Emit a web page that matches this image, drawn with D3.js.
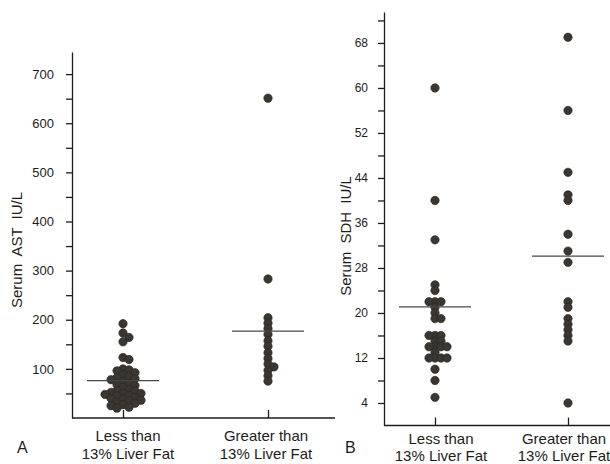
<!DOCTYPE html>
<html lang="en">
<head>
  <meta charset="UTF-8">
  <title>Serum AST and SDH vs liver fat</title>
  <script src="https://d3js.org/d3.v7.min.js"></script>
  <style>
    body {
      margin: 0;
      background: #fff;
      font-family: 'Liberation Sans', Arial, sans-serif;
    }
    svg { display: block; }
    .axis path, .axis line { stroke: #1e1c1a; stroke-width: 1.3px; }
    .axis text { fill: #1e1c1a; font-family: 'Liberation Sans', sans-serif; }
    .dot { fill: #3b3631; stroke: #2a2622; stroke-width: 0.6px; }
    .mean { stroke: #4a4744; stroke-width: 1.2px; }
    .title { fill: #1e1c1a; font-size: 15px; }
    .cat { fill: #1e1c1a; font-size: 15px; }
  </style>
</head>
<body>
<svg width="610" height="464"></svg>
<script>
  // panel A - serum AST (IU/L)
  const astLess = [192, 173, 164, 155, 123, 119,
    100, 98, 96, 92, 88, 85, 82, 80, 78, 74, 70, 68, 66, 62,
    58, 56, 55, 52, 50, 50, 48, 46, 45, 42, 40, 38, 36, 35, 32, 30,
    27, 25, 22, 20];
  const astGreater = [651, 283, 204, 193, 182, 170, 157, 146, 133, 121, 110, 104, 97, 86, 75];
  const astMeans = [76, 177];
  const astTicks = [100, 200, 300, 400, 500, 600, 700];

  // panel B - serum SDH (IU/L)
  const sdhLess = [60, 40, 33, 25, 24, 22, 22, 22, 21, 20, 19, 19,
    16, 16, 16, 15, 15, 14, 14, 14, 14, 13, 12, 12, 12, 12, 10, 8, 5];
  const sdhGreater = [69, 56, 45, 41, 40, 34, 31, 29, 22, 21, 19, 18, 17, 16, 15, 4];
  const sdhMeans = [21.1, 30.1];
  const sdhTicks = [4, 12, 20, 28, 36, 44, 52, 60, 68];

  const groups = ["Less than|13% Liver Fat", "Greater than|13% Liver Fat"];

  const svg = d3.select("svg");

  // simple beeswarm: same-value points go side by side
  function dodge(values, y, step, dist) {
    const placed = [];
    values.slice().sort((a, b) => b - a).forEach(v => {
      const yy = y(v);
      for (let i = 0; i < 20; i++) {
        const k = i === 0 ? 0 : (i % 2 ? (i + 1) / 2 : -i / 2);
        const dx = k * step;
        const ok = placed.every(p => (p.dx - dx) ** 2 + (p.y - yy) ** 2 >= dist * dist);
        if (ok) { placed.push({ v: v, y: yy, dx: dx }); break; }
      }
    });
    return placed;
  }

  function panel(opt) {
    const g = svg.append("g");
    const y = d3.scaleLinear().domain(opt.domain).range(opt.yRange);
    const x = d3.scalePoint().domain(groups).range(opt.xRange);

    const minor = d3.range(opt.minorStart, opt.domain[1], opt.minorStep);
    g.append("g").attr("class", "axis")
      .attr("transform", `translate(${opt.axisX},0)`)
      .call(d3.axisLeft(y).tickValues(minor).tickSize(6).tickFormat(""))
      .call(a => a.select(".domain").remove());
    g.append("g").attr("class", "axis")
      .attr("transform", `translate(${opt.axisX},0)`)
      .call(d3.axisLeft(y).tickValues(opt.ticks).tickSize(6).tickSizeOuter(0).tickPadding(opt.pad))
      .call(a => a.selectAll("text").style("font-size", opt.tickFont + "px"));

    // x baseline with inward group ticks
    g.append("g").attr("class", "axis")
      .attr("transform", `translate(0,${opt.yRange[0]})`)
      .call(d3.axisTop(x).tickSize(8).tickSizeOuter(0).tickFormat(""))
      .call(a => a.select(".domain").attr("d", `M${opt.axisX},0H${opt.xEnd}`));

    [opt.less, opt.greater].forEach((vals, i) => {
      const cx = x(groups[i]);
      g.append("g").selectAll("circle")
        .data(dodge(vals, y, 6, 5))
        .join("circle")
        .attr("class", "dot")
        .attr("cx", d => cx + d.dx)
        .attr("cy", d => d.y)
        .attr("r", 4.2);
      g.append("line").attr("class", "mean")
        .attr("x1", cx - 36).attr("x2", cx + 36)
        .attr("y1", y(opt.means[i])).attr("y2", y(opt.means[i]));
      const t = g.append("text").attr("class", "cat")
        .attr("text-anchor", "middle")
        .attr("transform", `translate(${cx + opt.labelShift[i]},${opt.labelY})`);
      groups[i].split("|").forEach((s, j) => {
        t.append("tspan").attr("x", 0).attr("dy", j ? opt.lineGap : 0).text(s);
      });
    });

    g.append("text").attr("class", "title")
      .attr("transform", `translate(${opt.titleX},${opt.titleY}) rotate(-90)`)
      .attr("text-anchor", "middle")
      .style("word-spacing", "4px")
      .text(opt.title);

    g.append("text").attr("class", "cat")
      .attr("x", opt.letterX).attr("y", 453)
      .style("font-size", "16px")
      .text(opt.letter);
  }

  panel({
    less: astLess, greater: astGreater, means: astMeans, ticks: astTicks,
    domain: [0, 745], yRange: [418, 52], minorStart: 50, minorStep: 100,
    axisX: 72, xEnd: 335, xRange: [123, 268], pad: 12, tickFont: 13,
    title: "Serum AST IU/L", titleX: 22, titleY: 250,
    labelY: 441, lineGap: 18, labelShift: [5, -2], letter: "A", letterX: 17
  });

  panel({
    less: sdhLess, greater: sdhGreater, means: sdhMeans, ticks: sdhTicks,
    domain: [0, 73.5], yRange: [425.5, 12], minorStart: 8, minorStep: 8,
    axisX: 384, xEnd: 610, xRange: [435, 568], pad: 10, tickFont: 12,
    title: "Serum SDH IU/L", titleX: 351, titleY: 236,
    labelY: 444, lineGap: 17, labelShift: [6, -4], letter: "B", letterX: 345
  });
</script>
</body>
</html>
